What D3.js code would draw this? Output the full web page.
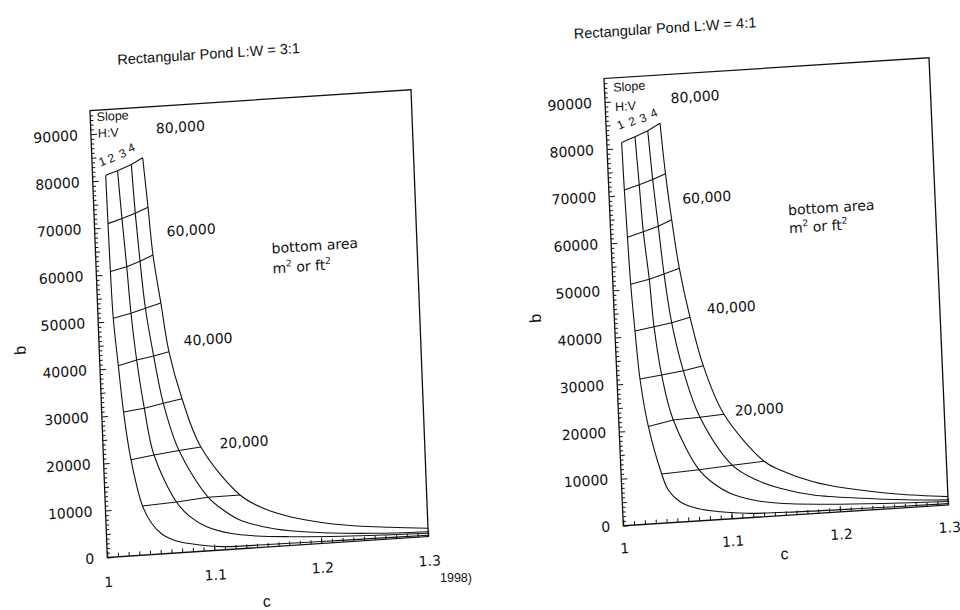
<!DOCTYPE html>
<html lang="en">
<head>
<meta charset="utf-8">
<title>Rectangular pond nomographs</title>
<script src="https://cdn.jsdelivr.net/npm/d3@7"></script>
<style>
  body { margin: 0; background: #fff; }
  svg text { fill: #111; }
  .axis text { font-family: "DejaVu Sans", sans-serif; font-size: 14px; fill: #111; }
  .axis line { stroke: #111; stroke-width: 1; }
  .frame { fill: none; stroke: #111; stroke-width: 1.3; }
  .slope { fill: none; stroke: #111; stroke-width: 1.1; }
  .iso { fill: none; stroke: #111; stroke-width: 1.1; }
  .note { font-family: "DejaVu Sans", sans-serif; font-size: 14px; }
  .small { font-family: "Liberation Sans", Arial, sans-serif; font-size: 12.5px; }
  .num { font-family: "Liberation Sans", Arial, sans-serif; font-size: 12px; }
  .title { font-family: "Liberation Sans", Arial, sans-serif; font-size: 14.5px; }
  .alabel { font-family: "Liberation Sans", Arial, sans-serif; font-size: 16px; }
</style>
</head>
<body>
<svg id="chart" width="960" height="610"></svg>
<script>
// bottom area iso-lines (one point per slope curve for each)
var areas = [80000, 70000, 60000, 50000, 40000, 30000, 20000, 10000];
var labelAreas = [80000, 60000, 40000, 20000];
var slopeNames = ["1", "2", "3", "4"];
var yTicks = [0, 10000, 20000, 30000, 40000, 50000, 60000, 70000, 80000, 90000];
var xTicks = [1, 1.1, 1.2, 1.3];

// L:W = 3:1  -- c and b along each slope curve (first 8 points sit on the area lines)
var lw3_c1 = [1.0123, 1.0127, 1.0132, 1.0142, 1.0172, 1.0204, 1.0256, 1.0347, 1.0426, 1.0516, 1.0653, 1.0869, 1.1085, 1.15, 1.2, 1.25, 1.3];
var lw3_b1 = [81100, 70800, 60600, 50650, 40530, 30640, 20410, 10440, 6640, 4230, 2540, 1370, 700, 520, 420, 340, 280];
var lw3_c2 = [1.0235, 1.0259, 1.0286, 1.0309, 1.0345, 1.0399, 1.0472, 1.0665, 1.0786, 1.0938, 1.1153, 1.1401, 1.1711, 1.22, 1.26, 1.3];
var lw3_b2 = [81900, 71680, 61410, 51470, 41480, 31130, 21090, 10810, 7510, 5150, 3430, 2490, 1880, 1250, 920, 680];
var lw3_c3 = [1.0366, 1.0385, 1.0412, 1.0445, 1.0505, 1.0578, 1.0707, 1.0961, 1.1098, 1.125, 1.1465, 1.1713, 1.2023, 1.2489, 1.3];
var lw3_b3 = [83000, 72630, 62370, 52330, 42090, 31930, 21700, 11390, 8470, 6110, 4370, 3150, 2260, 1440, 1020];
var lw3_c4 = [1.0474, 1.0506, 1.0535, 1.0591, 1.0649, 1.0754, 1.0912, 1.126, 1.1472, 1.1718, 1.2027, 1.2336, 1.2646, 1.3];
var lw3_b4 = [84290, 73730, 63530, 53240, 42790, 32620, 22140, 11420, 8270, 6120, 4380, 3220, 2480, 1740];

// L:W = 4:1
var lw4_c1 = [1.0137, 1.0143, 1.0153, 1.0164, 1.0185, 1.0212, 1.027, 1.0374, 1.0428, 1.0532, 1.0683, 1.0896, 1.1141, 1.16, 1.22, 1.3];
var lw4_b1 = [81210, 71110, 61050, 51050, 41090, 30860, 20680, 10440, 6960, 4320, 2700, 1660, 960, 600, 420, 300];
var lw4_c2 = [1.0262, 1.0282, 1.0301, 1.0337, 1.0362, 1.0413, 1.0502, 1.0719, 1.0846, 1.0995, 1.1207, 1.1452, 1.185, 1.24, 1.3];
var lw4_b2 = [82260, 72030, 62020, 51850, 41750, 31410, 21720, 10840, 7770, 5430, 3690, 2630, 1850, 1200, 750];
var lw4_c3 = [1.0382, 1.0408, 1.0441, 1.0475, 1.0526, 1.0614, 1.0749, 1.1029, 1.1246, 1.1458, 1.1761, 1.222, 1.26, 1.3];
var lw4_b3 = [83340, 72930, 62960, 52780, 42360, 32030, 21930, 11320, 7880, 5810, 3940, 2570, 1700, 1080];
var lw4_c4 = [1.0498, 1.0528, 1.0567, 1.0618, 1.0697, 1.08, 1.0971, 1.1321, 1.1465, 1.1766, 1.2072, 1.253, 1.3];
var lw4_b4 = [84760, 74010, 64180, 53780, 43250, 32820, 22240, 11750, 9690, 6760, 4910, 3030, 1780];

var svg = d3.select("#chart");

function drawPond(cfg) {
    var W = cfg.W, H = cfg.H;
    var x = d3.scaleLinear().domain([1, 1.3]).range([0, W]);
    var y = d3.scaleLinear().domain([0, 95000]).range([H, 0]);

    // the scanned page is a bit skewed: map the plot box onto its corners
    var O = cfg.origin, X = cfg.xEnd, Y = cfg.yEnd;
    var m = [(X[0] - O[0]) / W, (X[1] - O[1]) / W, (O[0] - Y[0]) / H, (O[1] - Y[1]) / H, Y[0], Y[1]];
    var g = svg.append("g").attr("transform", "matrix(" + m.join(",") + ")");

    //Title
    g.append("text").attr("class", "title")
        .attr("x", cfg.titlePos[0]).attr("y", cfg.titlePos[1])
        .attr("text-anchor", "middle")
        .text(cfg.title);

    //Minor ticks, drawn inward
    g.append("g").attr("class", "axis")
        .call(d3.axisLeft(y).tickValues(d3.range(1000, 95000, 1000).filter(function(d) { return d % 5000 !== 0; }))
            .tickSize(-3).tickFormat(""))
        .call(function(s) { s.select(".domain").remove(); });
    g.append("g").attr("class", "axis")
        .call(d3.axisLeft(y).tickValues(d3.range(5000, 95000, 10000)).tickSize(-4.5).tickFormat(""))
        .call(function(s) { s.select(".domain").remove(); });
    g.append("g").attr("class", "axis")
        .attr("transform", "translate(0," + H + ")")
        .call(d3.axisBottom(x).tickValues(d3.range(1, 30).map(function(i) { return 1 + i / 100; }))
            .tickSize(-4).tickFormat(""))
        .call(function(s) { s.select(".domain").remove(); });

    //Y axis labels
    g.append("g").attr("class", "axis")
        .call(d3.axisLeft(y).tickValues(yTicks).tickSizeInner(-6).tickSizeOuter(0).tickPadding(13)
            .tickFormat(d3.format("d")))
        .call(function(s) { s.select(".domain").remove(); });

    //X axis labels
    g.append("g").attr("class", "axis")
        .attr("transform", "translate(0," + H + ")")
        .call(d3.axisBottom(x).tickValues(xTicks).tickSizeInner(-6).tickSizeOuter(0).tickPadding(cfg.xPad)
            .tickFormat(function(d) { return d === 1 ? "1" : d3.format(".1f")(d); }))
        .call(function(s) { s.select(".domain").remove(); });

    //Frame
    g.append("rect").attr("class", "frame").attr("width", W).attr("height", H);

    //Axis titles
    g.append("text").attr("class", "alabel")
        .attr("x", W / 2 - 3).attr("y", H + cfg.cGap)
        .attr("dy", "0.35em").attr("text-anchor", "middle").text("c");
    g.append("text").attr("class", "alabel")
        .attr("transform", "translate(-79," + (H * 0.525) + ") rotate(-90)")
        .attr("dy", "0.35em").attr("text-anchor", "middle").text("b");

    //Slope curves
    var curves = cfg.cs.map(function(cs, i) { return d3.zip(cs, cfg.bs[i]); });
    var curveLine = d3.line()
        .x(function(d) { return x(d[0]); })
        .y(function(d) { return y(d[1]); })
        .curve(d3.curveCatmullRom.alpha(0.5));
    g.selectAll(".slope").data(curves).enter().append("path")
        .attr("class", "slope").attr("d", curveLine);

    //Bottom area lines across the slope curves
    var isoLine = d3.line()
        .x(function(d) { return x(d[0]); })
        .y(function(d) { return y(d[1]); });
    var iso = areas.map(function(a, k) { return curves.map(function(pts) { return pts[k]; }); });
    g.selectAll(".iso").data(iso).enter().append("path")
        .attr("class", "iso").attr("d", isoLine);

    //Slope numbers above the top of each curve
    g.selectAll(".num").data(curves).enter().append("text")
        .attr("class", "num")
        .attr("text-anchor", "middle").attr("dy", "0.35em")
        .attr("transform", function(d, i) {
            var px = x(d[0][0]) + cfg.numDx[0] + cfg.numDx[1] * i;
            var py = y(d[0][1]) + cfg.numDy[0] + cfg.numDy[1] * i;
            return "translate(" + px + "," + py + ") rotate(-20)";
        })
        .text(function(d, i) { return slopeNames[i]; });

    //Area labels
    g.selectAll(".arealab").data(labelAreas).enter().append("text")
        .attr("class", "note")
        .attr("x", function(d, i) { return x(cfg.areaLabelAt[i][0]); })
        .attr("y", function(d, i) { return y(cfg.areaLabelAt[i][1]); })
        .attr("dy", "0.35em").attr("text-anchor", "middle")
        .text(function(d) { return d3.format(",")(d); });

    //Slope H:V legend
    g.append("text").attr("class", "small")
        .attr("x", x(cfg.slopeAt[0])).attr("y", y(cfg.slopeAt[1])).attr("dy", "0.35em").text("Slope");
    g.append("text").attr("class", "small")
        .attr("x", x(cfg.hvAt[0])).attr("y", y(cfg.hvAt[1])).attr("dy", "0.35em").text("H:V");

    //bottom area note
    g.append("text").attr("class", "note")
        .attr("x", x(cfg.noteAt[0])).attr("y", y(cfg.noteAt[1])).attr("dy", "0.35em").text("bottom area");
    var t = g.append("text").attr("class", "note")
        .attr("x", x(cfg.noteAt[0])).attr("y", y(cfg.noteAt[1]) + cfg.noteGap).attr("dy", "0.35em");
    t.append("tspan").text("m");
    t.append("tspan").attr("font-size", "9px").attr("dy", "-6").text("2");
    t.append("tspan").attr("dy", "6").text("  or ft");
    t.append("tspan").attr("font-size", "9px").attr("dy", "-6").text("2");
}

drawPond({
    title: "Rectangular Pond L:W = 3:1",
    W: 321, H: 446.8,
    origin: [107.3, 557.5], xEnd: [428.3, 536.5], yEnd: [90, 110.7],
    titlePos: [120.5, -44],
    xPad: 19.5, cGap: 54,
    cs: [lw3_c1, lw3_c2, lw3_c3, lw3_c4],
    bs: [lw3_b1, lw3_b2, lw3_b3, lw3_b4],
    numDx: [-3, -2.7], numDy: [-14, 1.1],
    areaLabelAt: [[1.0837, 90280], [1.09, 68290], [1.1018, 44880], [1.1316, 22600]],
    slopeAt: [1.006, 93580], hvAt: [1.0066, 90090],
    noteAt: [1.1644, 63250], noteGap: 20
});

drawPond({
    title: "Rectangular Pond L:W = 4:1",
    W: 325, H: 447.2,
    origin: [623.3, 525.7], xEnd: [948.3, 505], yEnd: [604, 78.5],
    titlePos: [63, -41.5],
    xPad: 17.5, cGap: 38,
    cs: [lw4_c1, lw4_c2, lw4_c3, lw4_c4],
    bs: [lw4_b1, lw4_b2, lw4_b3, lw4_b4],
    numDx: [-0.5, -1.8], numDy: [-18, 2.5],
    areaLabelAt: [[1.0831, 89920], [1.0898, 68450], [1.1081, 44800], [1.1297, 22840]],
    slopeAt: [1.0082, 93000], hvAt: [1.009, 88860],
    noteAt: [1.1643, 64600], noteGap: 18
});

//Stray caption fragment at the page foot
svg.append("text").attr("class", "small")
    .attr("x", 440).attr("y", 582)
    .text("1998)");
</script>
</body>
</html>
